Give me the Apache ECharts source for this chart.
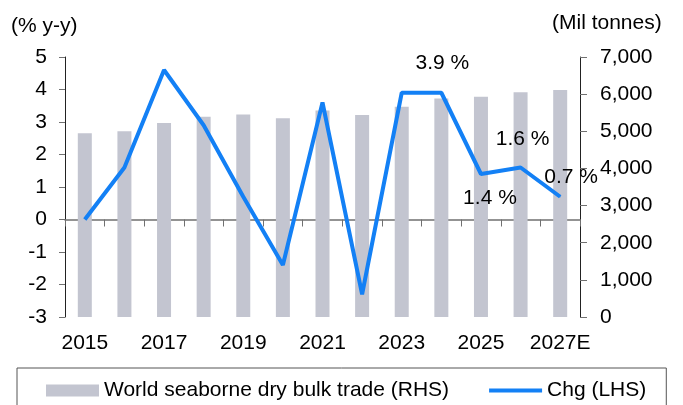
<!DOCTYPE html>
<html>
<head>
<meta charset="utf-8">
<script src="https://cdn.jsdelivr.net/npm/echarts@6/dist/echarts.min.js"></script>
<style>
  html, body { margin: 0; padding: 0; background: #fff; }
  #grafico { width: 683px; height: 405px; }
</style>
</head>
<body>
<div id="grafico"></div>
<script>
// dados
const anos = ['2015', '2016', '2017', '2018', '2019', '2020', '2021', '2022', '2023', '2024', '2025', '2026', '2027E'];
const comercioSeco = [4950, 5000, 5220, 5390, 5450, 5350, 5560, 5440, 5660, 5880, 5930, 6050, 6110];
const variacao = [0.0, 1.6, 4.6, 2.9, 0.7, -1.4, 3.6, -2.3, 3.9, 3.9, 1.4, 1.6, 0.7];
const rotulos = ['', '', '', '', '', '', '', '', '', '3.9 %', '1.4 %', '1.6 %', '0.7 %'];

const nomeBarra = 'World seaborne dry bulk trade (RHS)';
const nomeLinha = 'Chg (LHS)';
const azul = '#1380f5';
const cinza = '#c3c5d0';
const fonte = 'Liberation Sans, Arial, sans-serif';
const tam = 21;

// deslocamento de cada rótulo em relação ao ponto
const deslocRotulo = {
    '3.9 %': [1, -30],
    '1.4 %': [9, 24],
    '1.6 %': [2, -28],
    '0.7 %': [11, -20]
};

const dadosLinha = variacao.map((v, i) => {
    if (!rotulos[i]) return v;
    return {
        value: v,
        symbol: 'circle',
        symbolSize: 1,
        label: {
            show: true,
            position: 'inside',
            offset: deslocRotulo[rotulos[i]],
            formatter: rotulos[i],
            color: '#000',
            fontSize: tam,
            fontFamily: fonte
        }
    };
});

const grafico = echarts.init(document.getElementById('grafico'));
grafico.setOption({
    backgroundColor: '#fff',
    animation: false,
    grid: { left: 65, right: 103, top: 57, bottom: 88 },
    legend: {
        data: [
            { name: nomeBarra, icon: 'rect' },
            { name: nomeLinha, itemStyle: { opacity: 0 }, lineStyle: { width: 4 } }
        ],
        left: 17,
        top: 368,
        padding: [12, 20, 14, 29],
        itemGap: 38,
        itemWidth: 53,
        itemHeight: 12,
        borderColor: '#555',
        borderWidth: 1,
        textStyle: { color: '#000', fontSize: tam, fontFamily: fonte }
    },
    graphic: [
        { type: 'text', left: 11, top: 16, style: { text: '(% y-y)', fontSize: tam, fontFamily: fonte, fill: '#000' } },
        { type: 'text', left: 552, top: 13, style: { text: '(Mil tonnes)', fontSize: tam, fontFamily: fonte, fill: '#000' } }
    ],
    xAxis: [
        {
            type: 'category',
            position: 'bottom',
            data: anos,
            axisLine: { show: false, onZero: false },
            axisTick: { show: false },
            axisLabel: { interval: 1, margin: 16, color: '#000', fontSize: tam, fontFamily: fonte }
        },
        {
            // linha do zero com marcas entre os anos
            type: 'category',
            position: 'bottom',
            data: anos,
            axisLine: { onZero: true, onZeroAxisIndex: 0, lineStyle: { color: '#707070', width: 1.5 } },
            axisTick: { show: true, interval: 0, length: 7, lineStyle: { color: '#707070' } },
            axisLabel: { show: false }
        }
    ],
    yAxis: [
        {
            type: 'value',
            min: -3,
            max: 5,
            interval: 1,
            splitLine: { show: false },
            axisLine: { show: true, lineStyle: { color: '#222' } },
            axisTick: { show: true, length: 6, lineStyle: { color: '#707070' } },
            axisLabel: { margin: 18, color: '#000', fontSize: tam, fontFamily: fonte }
        },
        {
            type: 'value',
            min: 0,
            max: 7000,
            interval: 1000,
            splitLine: { show: false },
            axisLine: { show: true, lineStyle: { color: '#222' } },
            axisTick: { show: true, length: 7, lineStyle: { color: '#707070' } },
            axisLabel: {
                margin: 20,
                color: '#000',
                fontSize: tam,
                fontFamily: fonte,
                formatter: v => v.toLocaleString('en-US')
            }
        }
    ],
    series: [
        {
            name: nomeBarra,
            type: 'bar',
            yAxisIndex: 1,
            barWidth: 14,
            itemStyle: { color: cinza },
            data: comercioSeco
        },
        {
            name: nomeLinha,
            type: 'line',
            yAxisIndex: 0,
            symbol: 'none',
            lineStyle: { color: azul, width: 4 },
            itemStyle: { color: azul },
            data: dadosLinha
        }
    ]
});
</script>
</body>
</html>
